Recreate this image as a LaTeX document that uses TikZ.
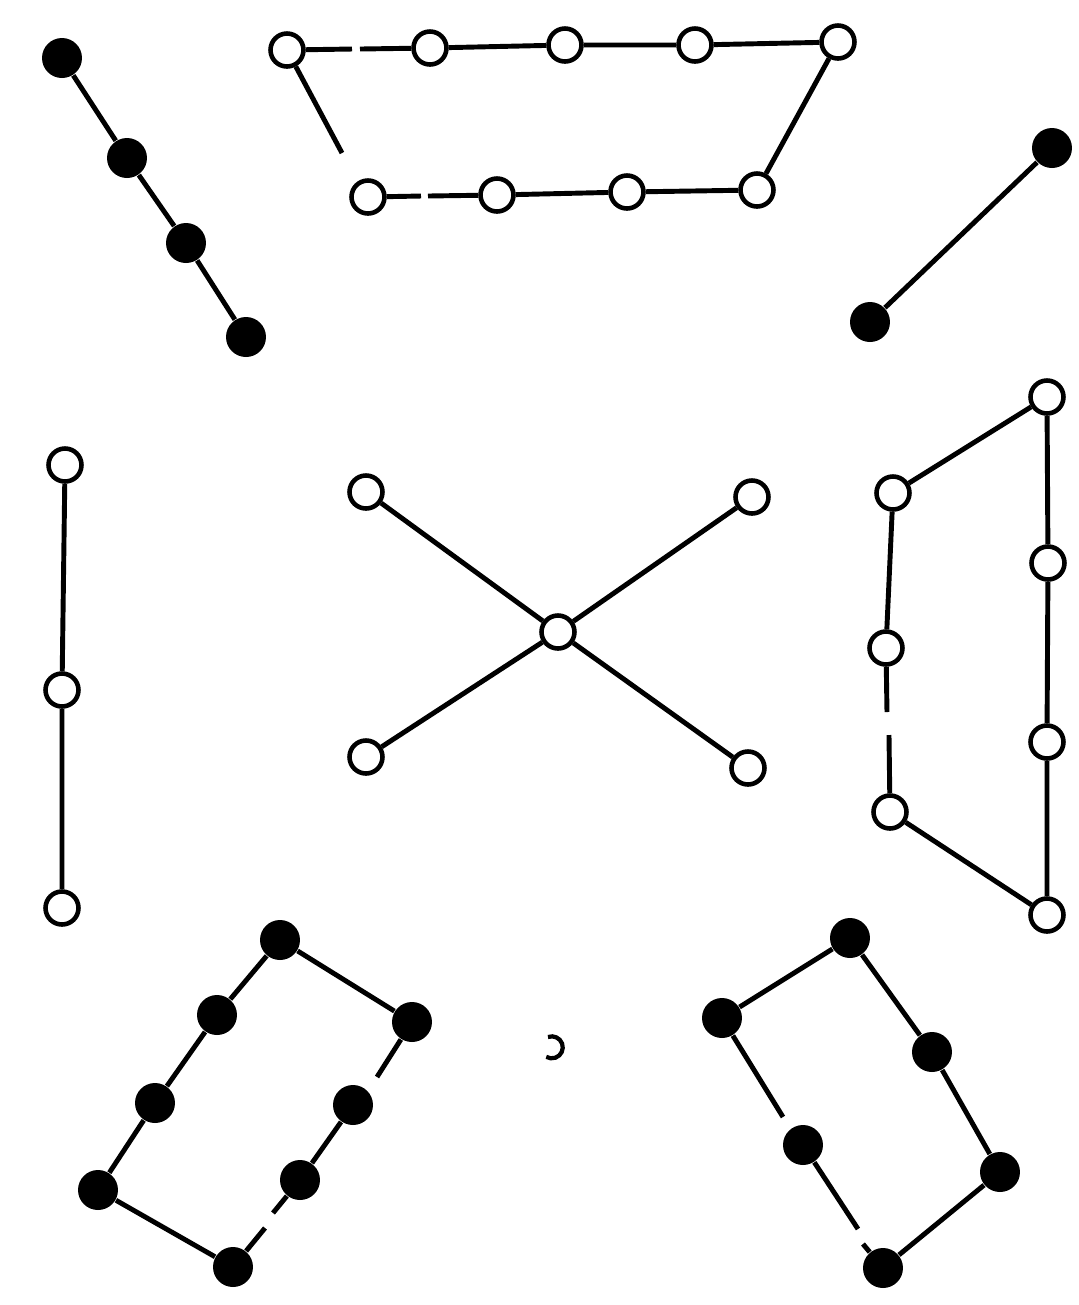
\documentclass[tikz,border=0pt]{standalone}
\usetikzlibrary{calc}

\begin{document}
\begin{tikzpicture}[
    x=0.1mm, y=-0.1mm,
    ln/.style={line width=1.4pt},
    opn/.style={circle, draw, line width=1.3pt, fill=white, inner sep=0pt, minimum size=3.3mm},
    full/.style={circle, fill=black, inner sep=0pt, minimum size=4mm},
]
\useasboundingbox (0,0) rectangle (1079,1305);

% top left chain
\node[full] (a1) at (62,58) {};
\node[full] (a2) at (127,158) {};
\node[full] (a3) at (186,243) {};
\node[full] (a4) at (246,337) {};
\draw[ln] (a1) -- (a2) -- (a3) -- (a4);

% top trapezoid
\node[opn] (t1) at (287,50) {};
\node[opn] (t2) at (430,48) {};
\node[opn] (t3) at (565,45) {};
\node[opn] (t4) at (695,45) {};
\node[opn] (t5) at (838,42) {};
\node[opn] (b1) at (368,197) {};
\node[opn] (b2) at (497,195) {};
\node[opn] (b3) at (627,192) {};
\node[opn] (b4) at (757,190) {};
\coordinate (tg1) at (352,49);
\coordinate (tg2) at (360,49);
\coordinate (bg1) at (421,196);
\coordinate (bg2) at (428,196);
\coordinate (lg) at (342,153);
\draw[ln] (t1) -- (tg1);
\draw[ln] (tg2) -- (t2) -- (t3) -- (t4) -- (t5) -- (b4) -- (b3) -- (b2) -- (bg2);
\draw[ln] (bg1) -- (b1);
\draw[ln] (t1) -- (lg);

% top right pair
\node[full] (c1) at (1052,148) {};
\node[full] (c2) at (870,322) {};
\draw[ln] (c1) -- (c2);

% left column
\node[opn] (d1) at (65,465) {};
\node[opn] (d2) at (62,690) {};
\node[opn] (d3) at (62,908) {};
\draw[ln] (d1) -- (d2) -- (d3);

% centre cross
\node[opn] (x0) at (558,632) {};
\node[opn] (x1) at (366,492) {};
\node[opn] (x2) at (752,497) {};
\node[opn] (x3) at (366,757) {};
\node[opn] (x4) at (748,768) {};
\foreach \e in {x1,x2,x3,x4} \draw[ln] (x0) -- (\e);

% right figure
\node[opn] (r1) at (1047,397) {};
\node[opn] (r2) at (893,493) {};
\node[opn] (r3) at (1048,563) {};
\node[opn] (r4) at (886,648) {};
\node[opn] (r5) at (1047,742) {};
\node[opn] (r6) at (890,812) {};
\node[opn] (r7) at (1047,915) {};
\coordinate (rg1) at (887,712);
\coordinate (rg2) at (889,735);
\draw[ln] (r4) -- (r2) -- (r1) -- (r3) -- (r5) -- (r7) -- (r6) -- (rg2);
\draw[ln] (r4) -- (rg1);

% bottom left figure
\node[full] (p1) at (280,940) {};
\node[full] (p2) at (412,1022) {};
\node[full] (p3) at (217,1015) {};
\node[full] (p4) at (155,1103) {};
\node[full] (p5) at (98,1190) {};
\node[full] (p6) at (233,1267) {};
\node[full] (p7) at (353,1105) {};
\node[full] (p8) at (300,1180) {};
\coordinate (pg1) at (377,1077);
\coordinate (pg2) at (273,1213);
\coordinate (pg3) at (265,1228);
\draw[ln] (p2) -- (p1) -- (p3) -- (p4) -- (p5) -- (p6) -- (pg3);
\draw[ln] (pg2) -- (p8) -- (p7);
\draw[ln] (p2) -- (pg1);

% bottom right figure
\node[full] (q1) at (850,938) {};
\node[full] (q2) at (722,1018) {};
\node[full] (q3) at (932,1052) {};
\node[full] (q4) at (803,1145) {};
\node[full] (q5) at (1000,1172) {};
\node[full] (q6) at (883,1268) {};
\coordinate (qg1) at (783,1117);
\coordinate (qg2) at (858,1229);
\coordinate (qg3) at (863,1244);
\draw[ln] (q2) -- (q1) -- (q3) -- (q5) -- (q6) -- (qg3);
\draw[ln] (q4) -- (qg2);
\draw[ln] (q2) -- (qg1);

% stray mark
\draw[line width=1.2pt] (548,1037) arc[start angle=-110, end angle=120, radius=11];
\end{tikzpicture}
\end{document}
